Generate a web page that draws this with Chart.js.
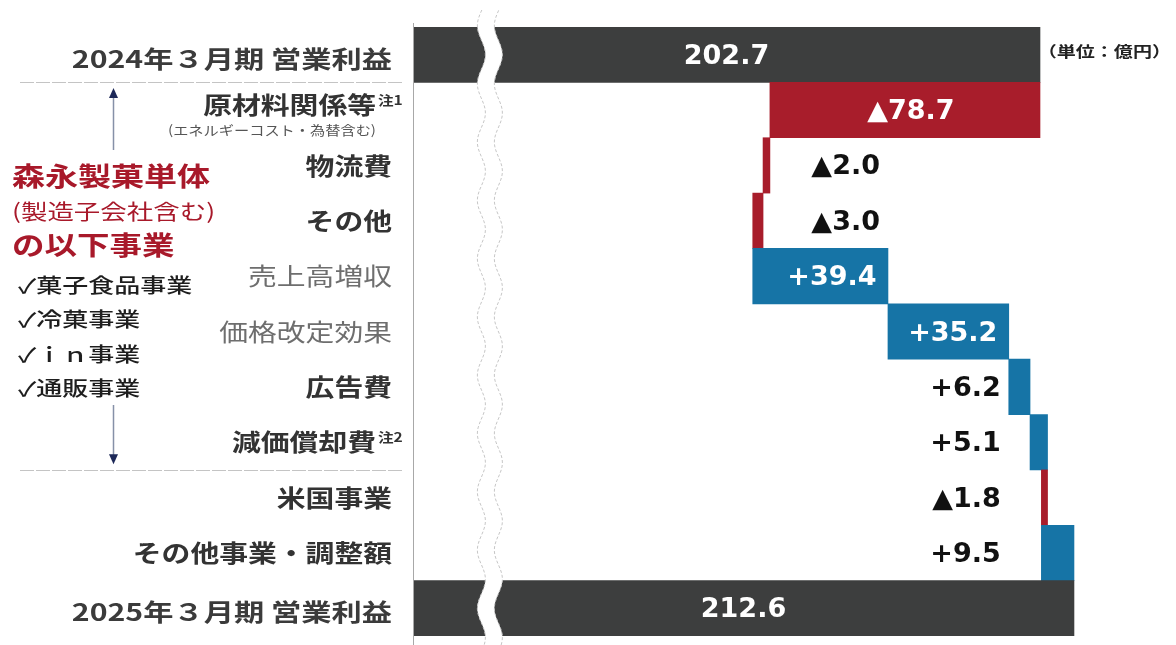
<!DOCTYPE html>
<html lang="ja">
<head>
<meta charset="utf-8">
<title>営業利益 増減要因</title>
<script src="https://cdn.jsdelivr.net/npm/chart.js@4.4.1/dist/chart.umd.min.js"></script>
<style>
  html, body { margin: 0; padding: 0; background: #fff; }
  #wrap { position: relative; width: 1176px; height: 645px; }
</style>
</head>
<body>
<div id="wrap"><canvas id="bridge"></canvas></div>
<script>
// 営業利益の増減要因（単位：億円）
const categories = ['2024年３月期 営業利益', '原材料関係等', '物流費', 'その他', '売上高増収', '価格改定効果', '広告費', '減価償却費', '米国事業', 'その他事業・調整額', '2025年３月期 営業利益'];
const amounts = [202.7, -78.7, -2.0, -3.0, 39.4, 35.2, 6.2, 5.1, -1.8, 9.5, 212.6];
const isTotal = [true, false, false, false, false, false, false, false, false, false, true];
const notes = ['', '注1', '', '', '', '', '', '注2', '', '', ''];
const subNotes = ['', '(エネルギーコスト・為替含む)', '', '', '', '', '', '', '', '', ''];
const groupTitle = ['森永製菓単体', '(製造子会社含む)', 'の以下事業'];
const groupItems = ['✓菓子食品事業', '✓冷菓事業', '✓ｉｎ事業', '✓通販事業'];
const unitText = '（単位：億円）';

// axis is broken: values below axisMin are cut off
const axisMin = 20;
const axisMax = 240;
const breakValue = 42.4;

// floating bars from running total
let running = 0;
const ranges = amounts.map((v, i) => {
  if (isTotal[i]) {
    running = v;
    return [0, v];
  }
  const r = [running, running + v];
  running += v;
  return r;
});

const DARK = '#3d3e3e';
const RED = '#a81d2b';
const BLUE = '#1674a6';
const barColors = amounts.map((v, i) => isTotal[i] ? DARK : (v < 0 ? RED : BLUE));

const JP = "'Noto Sans CJK JP', 'DejaVu Sans', sans-serif";
const NUM = "'DejaVu Sans', 'Noto Sans CJK JP', sans-serif";
const lightRows = ['売上高増収', '価格改定効果'];

function stretchText(ctx, text, x, y, font, color, align, sx) {
  ctx.save();
  ctx.font = font;
  ctx.fillStyle = color;
  ctx.textAlign = align;
  ctx.textBaseline = 'middle';
  const w = ctx.measureText(text).width * sx;
  ctx.translate(x, y);
  ctx.scale(sx, 1);
  ctx.fillText(text, 0, 0);
  ctx.restore();
  return w;
}

function wavePath(cx, y0, y1, amp, period, phaseY, down) {
  const pts = [];
  for (let y = y0; y <= y1; y += 1) {
    pts.push([cx + amp * Math.cos(2 * Math.PI * (y - phaseY) / period), y]);
  }
  if (!down) pts.reverse();
  return pts;
}

function valueText(v, i) {
  if (isTotal[i]) return v.toFixed(1);
  return (v < 0 ? '▲' : '+') + Math.abs(v).toFixed(1);
}

const annotations = {
  id: 'annotations',
  afterDatasetsDraw(chart) {
    const { ctx, chartArea: area, scales: { x, y } } = chart;
    const y0 = y.getPixelForValue(0);
    const period = (y.getPixelForValue(categories.length - 1) - y0) / (categories.length - 1.5);
    const cx = x.getPixelForValue(breakValue);
    const left = wavePath(cx - 8.5, 10, chart.height, 4, period, y0, true);
    const right = wavePath(cx + 8.5, 10, chart.height, 4, period, y0, false);

    // white gap of the axis break
    ctx.save();
    ctx.beginPath();
    left.concat(right).forEach((p, k) => k ? ctx.lineTo(p[0], p[1]) : ctx.moveTo(p[0], p[1]));
    ctx.closePath();
    ctx.fillStyle = '#fff';
    ctx.fill();
    ctx.strokeStyle = '#c6c6c6';
    ctx.lineWidth = 1;
    ctx.setLineDash([3, 2]);
    [left, right].forEach(pts => {
      ctx.beginPath();
      pts.forEach((p, k) => k ? ctx.lineTo(p[0], p[1]) : ctx.moveTo(p[0], p[1]));
      ctx.stroke();
    });
    ctx.restore();

    // vertical axis line
    ctx.save();
    ctx.strokeStyle = '#a8a8a8';
    ctx.lineWidth = 1;
    ctx.beginPath();
    ctx.moveTo(area.left + 0.5, area.top - 4);
    ctx.lineTo(area.left + 0.5, chart.height);
    ctx.stroke();
    ctx.restore();
  },
  afterDraw(chart) {
    const { ctx, chartArea: area, scales: { x, y } } = chart;
    const labelRight = area.left - 21;

    // category labels
    categories.forEach((name, i) => {
      const cy = y.getPixelForValue(i);
      let font = 'bold 24px ' + JP;
      let color = '#333';
      let sx = 1.2;
      let my = cy;
      if (isTotal[i]) {
        color = '#3b3b3b';
        sx = 1.26;
        my = cy + 4;
      }
      if (lightRows.includes(name)) {
        font = '24px ' + JP;
        color = '#6e6e6e';
      }
      const right = notes[i] ? labelRight - 16 : labelRight;
      if (subNotes[i]) my = cy - 5;
      stretchText(ctx, name, right, my, font, color, 'right', sx);
      if (notes[i]) {
        stretchText(ctx, notes[i], right + 2, my - 5, 'bold 13px ' + JP, '#333', 'left', 1.2);
      }
      if (subNotes[i]) {
        stretchText(ctx, subNotes[i], right, cy + 20, '13px ' + JP, '#555', 'right', 1.17);
      }
    });

    // separators under the first total and above 米国事業
    ctx.save();
    ctx.strokeStyle = '#c4c4c4';
    ctx.lineWidth = 1;
    ctx.setLineDash([14, 2]);
    [1, 8].forEach(i => {
      const yy = Math.round((y.getPixelForValue(i - 1) + y.getPixelForValue(i)) / 2) + 0.5;
      ctx.beginPath();
      ctx.moveTo(20, yy);
      ctx.lineTo(area.left - 11, yy);
      ctx.stroke();
    });
    ctx.restore();

    // bracket arrow on the left
    const ax = 113.5;
    const topTip = y.getPixelForValue(1) - 22;
    const botTip = y.getPixelForValue(7) + 22;
    ctx.save();
    ctx.strokeStyle = '#8691a8';
    ctx.lineWidth = 1.5;
    ctx.beginPath();
    ctx.moveTo(ax, topTip + 8);
    ctx.lineTo(ax, 150);
    ctx.moveTo(ax, 405);
    ctx.lineTo(ax, botTip - 8);
    ctx.stroke();
    ctx.fillStyle = '#1d2858';
    ctx.beginPath();
    ctx.moveTo(ax, topTip);
    ctx.lineTo(ax - 4.5, topTip + 10);
    ctx.lineTo(ax + 4.5, topTip + 10);
    ctx.closePath();
    ctx.fill();
    ctx.beginPath();
    ctx.moveTo(ax, botTip);
    ctx.lineTo(ax - 4.5, botTip - 10);
    ctx.lineTo(ax + 4.5, botTip - 10);
    ctx.closePath();
    ctx.fill();
    ctx.restore();

    // segment block text
    const red = '#a8192a';
    stretchText(ctx, groupTitle[0], 12, 176, 'bold 26px ' + JP, red, 'left', 1.27);
    stretchText(ctx, groupTitle[1], 12, 211, '21px ' + JP, red, 'left', 1.26);
    stretchText(ctx, groupTitle[2], 12, 245, 'bold 26px ' + JP, red, 'left', 1.25);
    groupItems.forEach((t, k) => {
      stretchText(ctx, t, 18, 285 + k * 34.5, '500 20px ' + JP, '#1e1e1e', 'left', 1.3);
    });

    // unit
    stretchText(ctx, unitText, chart.width - 5, y.getPixelForValue(0) - 3, 'bold 15px ' + JP, '#222', 'right', 1.27);

    // value labels
    const meta = chart.getDatasetMeta(0);
    const anchorFor = i => x.getPixelForValue(ranges[i < 4 ? 4 : 5][1]) - 8;
    meta.data.forEach((bar, i) => {
      const lo = Math.max(x.getPixelForValue(Math.min(...ranges[i])), area.left);
      const hi = x.getPixelForValue(Math.max(...ranges[i]));
      const txt = valueText(amounts[i], i);
      const ty = bar.y + 2;
      if (hi - lo > 100) {
        const cx = isTotal[i] || amounts[i] < 0 ? (lo + hi) / 2 + (amounts[i] < 0 ? 6 : 0) : hi - 56;
        stretchText(ctx, txt, cx, ty, 'bold 27px ' + NUM, '#fff', 'center', 1);
      } else {
        stretchText(ctx, txt, anchorFor(i), ty, 'bold 27px ' + NUM, '#111', 'right', 1);
      }
    });
  }
};

new Chart(document.getElementById('bridge'), {
  type: 'bar',
  data: {
    labels: categories,
    datasets: [{
      data: ranges,
      backgroundColor: barColors,
      borderWidth: 0,
      barPercentage: 1,
      categoryPercentage: 1
    }]
  },
  options: {
    indexAxis: 'y',
    responsive: true,
    maintainAspectRatio: false,
    animation: false,
    layout: { padding: { left: 413, right: 8, top: 27, bottom: 9 } },
    scales: {
      x: { type: 'linear', min: axisMin, max: axisMax, display: false },
      y: { display: false }
    },
    plugins: {
      legend: { display: false },
      tooltip: { enabled: false }
    }
  },
  plugins: [annotations]
});
</script>
</body>
</html>
